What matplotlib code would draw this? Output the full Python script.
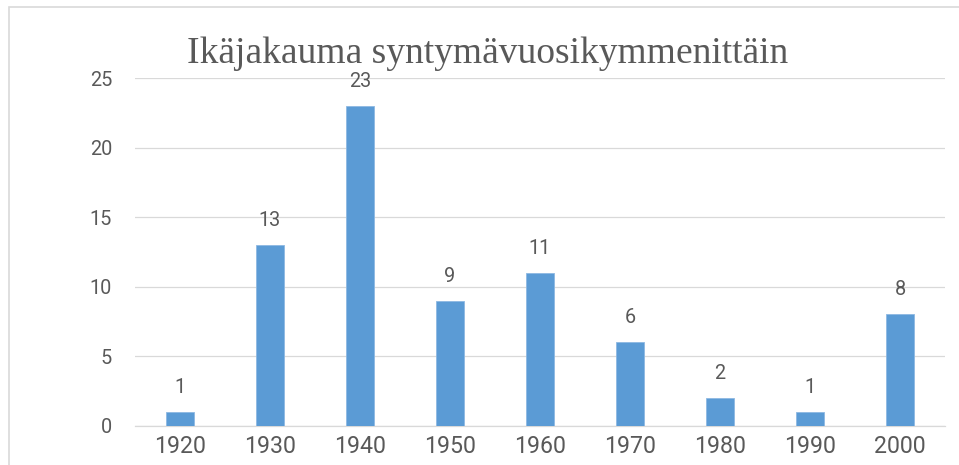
import matplotlib.pyplot as plt
from matplotlib.patches import Rectangle

decades = ["1920", "1930", "1940", "1950", "1960", "1970", "1980", "1990", "2000"]
counts = [1, 13, 23, 9, 11, 6, 2, 1, 8]
y_ticks = [0, 5, 10, 15, 20, 25]

title = "Ikäjakauma syntymävuosikymmenittäin"

bar_color = "#5B9BD5"
text_color = "#595959"
grid_color = "#D9D9D9"

W, H = 959, 465
fig = plt.figure(figsize=(W / 100, H / 100), dpi=100)
fig.patch.set_facecolor("white")

# chart frame (only left and top edges are visible in the reference)
fig.add_artist(Rectangle((9 / W, -0.5), 2.0, 0.5 + 458 / H, transform=fig.transFigure,
                         fill=False, edgecolor=grid_color, linewidth=1.2))

ax = fig.add_axes([135 / W, 39.3 / H, 810 / W, 347.7 / H])
x = list(range(len(decades)))
ax.bar(x, counts, width=0.31, color=bar_color, edgecolor="#8DB8E2",
       linewidth=0.6, zorder=3)

for xi, v in zip(x, counts):
    ax.annotate(str(v), (xi, v), xytext=(0, 13.7), textcoords="offset points",
                ha="center", va="baseline", fontsize=14.3, color=text_color,
                family="Roboto")

ax.set_xlim(-0.5, len(decades) - 0.5)
ax.set_ylim(0, 25)
ax.set_yticks(y_ticks)
ax.set_xticks(x)
ax.set_xticklabels(decades)
ax.yaxis.grid(True, color=grid_color, linewidth=0.9, zorder=0)
ax.set_axisbelow(True)
for side in ["top", "right", "left"]:
    ax.spines[side].set_visible(False)
ax.spines["bottom"].set_color(grid_color)
ax.spines["bottom"].set_linewidth(0.9)
ax.tick_params(axis="y", length=0, pad=16.5, labelsize=14.3, labelcolor=text_color)
ax.tick_params(axis="x", length=0, pad=6.5, labelsize=16.7, labelcolor=text_color)
for lab in ax.get_xticklabels() + ax.get_yticklabels():
    lab.set_family("Roboto")

fig.text(487.5 / W, 1 - 63 / H, title, ha="center", va="baseline",
         fontsize=27, color=text_color, family="Liberation Serif")

fig.savefig("out.png", dpi=100)
